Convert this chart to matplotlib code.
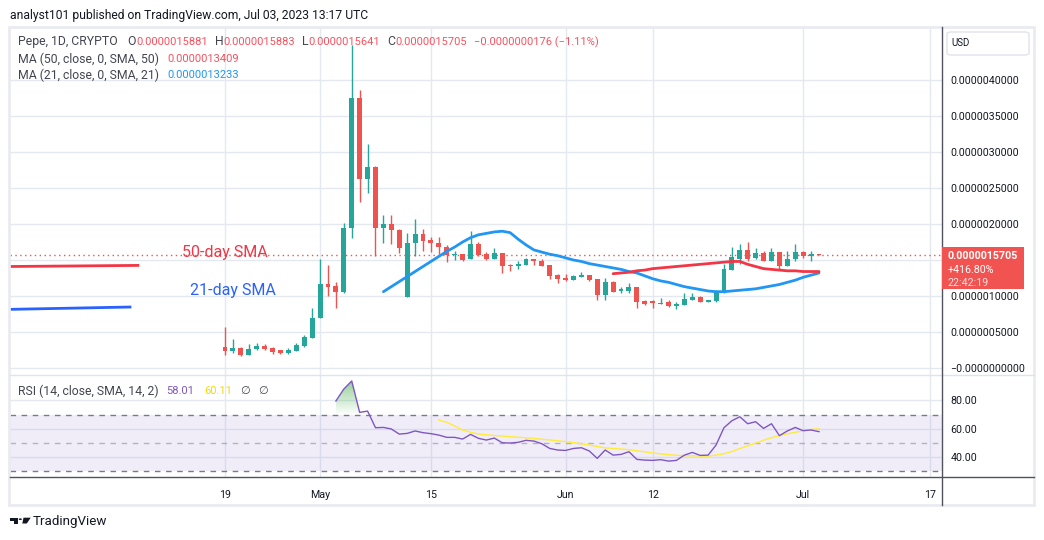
import matplotlib
matplotlib.use('Agg')
import matplotlib.pyplot as plt
import matplotlib.patches as mpatches
from matplotlib.lines import Line2D
from matplotlib.path import Path
import numpy as np
import pandas as pd

# Pepe / USD daily candles from Apr 19 2023 to Jul 3 2023 (prices in millionths of a USD)
start_date = pd.Timestamp('2023-04-19')
opens = [0.287, 0.240, 0.273, 0.180, 0.260, 0.305, 0.273, 0.250, 0.204, 0.240,
         0.305, 0.420, 0.700, 1.160, 1.140, 1.050, 1.950, 3.750, 2.620, 2.790,
         1.940, 2.000, 1.910, 0.980, 1.730, 1.860, 1.780, 1.740, 1.680, 1.570,
         1.580, 1.510, 1.720, 1.580, 1.520, 1.600, 1.430, 1.410, 1.435, 1.510,
         1.490, 1.430, 1.290, 1.250, 1.220, 1.270, 1.290, 1.240, 1.010, 1.200,
         1.065, 1.070, 1.120, 0.930, 0.930, 0.890, 0.910, 0.860, 0.880, 0.940,
         0.990, 0.920, 0.935, 1.050, 1.360, 1.520, 1.640, 1.530, 1.600, 1.490,
         1.610, 1.410, 1.510, 1.610, 1.550, 1.5881]
highs = [0.574, 0.400, 0.287, 0.330, 0.350, 0.340, 0.287, 0.250, 0.280, 0.350,
         0.460, 0.830, 1.520, 1.430, 1.200, 2.020, 4.490, 3.860, 3.110, 2.810,
         2.120, 2.120, 1.930, 1.870, 2.070, 1.930, 1.820, 1.820, 1.710, 1.620,
         1.590, 1.900, 1.750, 1.610, 1.660, 1.600, 1.450, 1.490, 1.530, 1.520,
         1.510, 1.430, 1.310, 1.310, 1.290, 1.330, 1.290, 1.240, 1.250, 1.210,
         1.120, 1.180, 1.120, 0.940, 0.950, 0.970, 0.940, 0.910, 1.040, 1.040,
         1.000, 0.940, 1.080, 1.440, 1.680, 1.720, 1.750, 1.670, 1.620, 1.660,
         1.610, 1.620, 1.720, 1.625, 1.620, 1.5883]
lows = [0.180, 0.204, 0.167, 0.180, 0.250, 0.250, 0.194, 0.200, 0.190, 0.240,
        0.296, 0.410, 0.690, 1.000, 0.840, 1.040, 1.810, 2.310, 2.430, 1.550,
        1.740, 1.720, 1.600, 0.980, 1.550, 1.620, 1.610, 1.590, 1.470, 1.500,
        1.480, 1.510, 1.550, 1.500, 1.510, 1.320, 1.350, 1.375, 1.430, 1.430,
        1.420, 1.240, 1.180, 1.210, 1.220, 1.260, 1.210, 0.940, 0.950, 1.050,
        1.040, 1.040, 0.830, 0.875, 0.840, 0.885, 0.850, 0.820, 0.870, 0.940,
        0.920, 0.910, 0.910, 1.040, 1.360, 1.450, 1.490, 1.510, 1.480, 1.490,
        1.360, 1.410, 1.480, 1.530, 1.490, 1.5641]
closes = [0.240, 0.273, 0.176, 0.260, 0.305, 0.268, 0.227, 0.204, 0.250, 0.320,
          0.430, 0.700, 1.160, 1.130, 1.050, 1.950, 3.750, 2.620, 2.790, 1.940,
          2.000, 1.910, 1.660, 1.730, 1.860, 1.760, 1.730, 1.680, 1.570, 1.590,
          1.500, 1.720, 1.570, 1.520, 1.600, 1.420, 1.410, 1.440, 1.510, 1.490,
          1.420, 1.280, 1.240, 1.220, 1.280, 1.290, 1.220, 1.010, 1.200, 1.060,
          1.100, 1.120, 0.920, 0.890, 0.900, 0.900, 0.860, 0.890, 0.960, 0.990,
          0.920, 0.940, 1.060, 1.370, 1.540, 1.640, 1.520, 1.600, 1.490, 1.610,
          1.410, 1.520, 1.610, 1.550, 1.590, 1.5705]

# moving average lines
sma21_first = 20
sma21 = [1.06, 1.13, 1.20, 1.27, 1.34, 1.41, 1.48, 1.55, 1.62, 1.68,
         1.75, 1.81, 1.85, 1.87, 1.89, 1.90, 1.88, 1.79, 1.71, 1.64,
         1.61, 1.58, 1.56, 1.53, 1.50, 1.48, 1.45, 1.43, 1.41, 1.39,
         1.37, 1.34, 1.32, 1.28, 1.24, 1.21, 1.19, 1.16, 1.13, 1.11,
         1.09, 1.07, 1.06, 1.06, 1.07, 1.08, 1.09, 1.10, 1.12, 1.14,
         1.16, 1.19, 1.22, 1.26, 1.29, 1.32]
sma50_first = 49
sma50 = [1.31, 1.32, 1.33, 1.35, 1.36, 1.38, 1.39, 1.40, 1.41, 1.42,
         1.43, 1.44, 1.45, 1.46, 1.47, 1.48, 1.48, 1.44, 1.41, 1.38,
         1.37, 1.36, 1.35, 1.35, 1.34, 1.34, 1.34]

# RSI (14) and its 14-day SMA
rsi_first = 14
rsi = [79.6, 88.0, 93.7, 71.6, 72.5, 60.8, 61.0, 59.9, 56.3, 56.8,
       58.5, 57.3, 56.6, 55.6, 54.0, 54.0, 52.8, 56.1, 53.3, 52.1,
       53.5, 50.2, 50.0, 50.5, 51.9, 51.4, 49.5, 46.2, 45.1, 44.8,
       46.2, 46.7, 44.4, 39.2, 45.1, 41.5, 42.0, 43.9, 38.5, 38.0,
       37.8, 38.3, 37.3, 37.8, 41.5, 43.4, 41.3, 41.5, 48.6, 60.8,
       65.7, 68.5, 63.6, 65.0, 60.3, 63.6, 55.2, 58.5, 61.0, 58.7,
       59.2, 58.01]
rsi_ma_first = 27
rsi_ma = [66.2, 64.6, 62.0, 59.2, 57.6, 56.4, 55.8, 55.3, 54.9, 54.5,
          54.1, 53.7, 53.2, 52.7, 52.2, 51.6, 51.0, 50.3, 49.5, 48.6,
          47.6, 46.6, 46.2, 45.8, 45.3, 44.6, 43.8, 43.0, 42.4, 41.8,
          41.4, 41.1, 41.0, 40.9, 40.8, 41.5, 42.5, 44.0, 46.2, 48.0,
          50.0, 52.0, 53.8, 55.2, 56.5, 57.6, 58.6, 59.5, 60.11]

# analyst's drawings: short lines and labels on the left
note_50_dates = ['2023-03-23', '2023-04-08']
note_50_vals = [1.41, 1.425]
note_21_dates = ['2023-03-23', '2023-04-07']
note_21_vals = [0.815, 0.847]
note_labels = ['50-day SMA', '21-day SMA']
note_label_dates = ['2023-04-19', '2023-04-20']
note_label_vals = [1.607, 1.083]

date_ticks = ['2023-04-19', '2023-05-01', '2023-05-15', '2023-06-01',
              '2023-06-12', '2023-07-01', '2023-07-17']
date_tick_labels = ['19', 'May', '15', 'Jun', '12', 'Jul', '17']
price_ticks = [0.0, 0.5, 1.0, 1.5, 2.0, 2.5, 3.0, 3.5, 4.0]
# the 1.5 label sits under the last-price box in the reference
price_tick_labels = ['\u22120.0000000000', '0.0000005000', '0.0000010000',
                     '', '0.0000020000', '0.0000025000',
                     '0.0000030000', '0.0000035000', '0.0000040000']
rsi_ticks = [40, 60, 80]
rsi_tick_labels = ['40.00', '60.00', '80.00']

GREEN = '#26A69A'
RED = '#EF5350'
BLUE = '#2196F3'
GRID = '#e4e9f0'
TXT = '#131722'
GRAY = '#434651'

plt.rcParams['font.family'] = ['Roboto', 'DejaVu Sans']

W, H = 1044, 540
fig = plt.figure(figsize=(W / 100, H / 100), dpi=100)


def fx(x):
    return x / W


def fy(y):
    return 1 - y / H


def day(s):
    return (pd.Timestamp(s) - start_date).days


ax = fig.add_axes([fx(10), fy(375), fx(932), 348 / H])
ax2 = fig.add_axes([fx(10), fy(477), fx(932), 102 / H])
xlim = (-27.15, 90.53)

# ---- price pane ----
o = np.array(opens)
c = np.array(closes)
d = np.arange(len(c))
cols = np.where(c >= o, GREEN, RED)
ax.vlines(d, lows, highs, colors=cols, lw=1, zorder=3)
ax.bar(d, np.maximum(np.abs(c - o), 0.012), bottom=np.minimum(o, c),
       width=0.62, color=cols, lw=0, zorder=3)

ax.plot(np.arange(sma21_first, sma21_first + len(sma21)), sma21,
        color=BLUE, lw=2, zorder=4, solid_capstyle='round')
ax.plot(np.arange(sma50_first, sma50_first + len(sma50)), sma50,
        color='#F23645', lw=2, zorder=4, solid_capstyle='round')

ax.axhline(closes[-1], color=RED, lw=1, ls=(0, (1, 2.5)), zorder=2)

ax.plot([day(s) for s in note_50_dates], note_50_vals, color='#F23645', lw=2)
ax.plot([day(s) for s in note_21_dates], note_21_vals, color='#2962FF', lw=2)
for lab, s, v, col in zip(note_labels, note_label_dates, note_label_vals,
                          ['#F23645', '#2962FF']):
    ax.text(day(s), v, lab, color=col, fontsize=11.5, ha='center', va='center')

ax.set_xlim(*xlim)
ax.set_ylim(-0.097, 4.736)
ax.set_yticks(price_ticks)
ax.set_yticklabels(price_tick_labels)
ax.yaxis.tick_right()
ax.set_xticks([day(s) for s in date_ticks])
ax.tick_params(axis='x', labelbottom=False, length=0)
ax.tick_params(axis='y', length=0, pad=6, labelsize=7.7, labelcolor=TXT)
ax.grid(True, color=GRID, lw=1)
ax.set_axisbelow(True)
for sp in ax.spines.values():
    sp.set_visible(False)

# ---- RSI pane ----
ax2.axhspan(30, 70, color='#7E57C2', alpha=0.1, lw=0)
ax2.axhline(70, color='#787B86', lw=1, ls=(0, (4, 4)))
ax2.axhline(30, color='#787B86', lw=1, ls=(0, (4, 4)))
ax2.axhline(50, color='#787B86', lw=1, ls=(0, (4, 4)), alpha=0.5)

rx = np.arange(rsi_first, rsi_first + len(rsi))
r = np.array(rsi)
fb = ax2.fill_between(rx, r, 70, where=r >= 70, interpolate=True,
                      facecolor='none', lw=0)
clip = Path.make_compound_path(*fb.get_paths())
grad = np.zeros((100, 1, 4))
grad[:, 0, 0] = 0.30
grad[:, 0, 1] = 0.69
grad[:, 0, 2] = 0.31
grad[:, 0, 3] = np.linspace(0.0, 0.75, 100)
im = ax2.imshow(grad, extent=[rx[0], rx[-1], 70, 100], origin='lower',
                aspect='auto', zorder=2, interpolation='bilinear')
im.set_clip_path(clip, transform=ax2.transData)

ax2.plot(rx, r, color='#7E57C2', lw=1, zorder=4)
ax2.plot(np.arange(rsi_ma_first, rsi_ma_first + len(rsi_ma)), rsi_ma,
         color='#FFEB3B', lw=1, zorder=3)

ax2.set_xlim(*xlim)
ax2.set_ylim(26.1, 97.9)
ax2.set_yticks(rsi_ticks)
ax2.set_yticklabels(rsi_tick_labels)
ax2.yaxis.tick_right()
ax2.set_xticks([day(s) for s in date_ticks])
ax2.set_xticklabels(date_tick_labels)
ax2.tick_params(axis='x', length=0, pad=9, labelsize=7.7, labelcolor=TXT)
ax2.tick_params(axis='y', length=0, pad=6, labelsize=7.7, labelcolor=TXT)
ax2.grid(True, color=GRID, lw=1)
ax2.set_axisbelow(True)
for sp in ax2.spines.values():
    sp.set_visible(False)

# ---- frame and separators ----
fig.add_artist(mpatches.Rectangle((fx(9), fy(505)), fx(1025), 478 / H,
                                  fill=False, ec='#e9ebf1', lw=2))
fig.add_artist(Line2D([fx(10), fx(1034)], [fy(375), fy(375)], color='#e0e3eb', lw=1))
fig.add_artist(Line2D([fx(10), fx(1034)], [fy(477), fy(477)], color='#50535e', lw=1))
fig.add_artist(Line2D([fx(942), fx(942)], [fy(27), fy(505)], color='#50535e', lw=1))

# USD box
fig.add_artist(mpatches.FancyBboxPatch((fx(947), fy(55)), fx(82), 23 / H,
                                       boxstyle='round,pad=0,rounding_size=0.004',
                                       fc='white', ec='#e0e3eb', lw=1))
fig.text(fx(951), fy(43), 'USD', fontsize=7, color=TXT, va='center')

# last price box
fig.add_artist(mpatches.Rectangle((fx(942), fy(289)), fx(82), 42 / H,
                                  fc='#F05350', ec='none', zorder=5))
fig.text(fx(948), fy(256), '0.0000015705', fontsize=7.7, color='white',
         va='center', weight='bold', zorder=6)
fig.text(fx(948), fy(270), '+416.80%', fontsize=7.7, color='white',
         va='center', zorder=6)
fig.text(fx(948), fy(283), '22:42:19', fontsize=7.7, color='#fde0e0',
         va='center', zorder=6)

# header and legend rows
fig.text(fx(10), fy(15), 'analyst101 published on TradingView.com, Jul 03, 2023 13:17 UTC',
         fontsize=8.7, color=TXT, va='center')

renderer = fig.canvas.get_renderer()


def text_row(x, y, parts):
    # parts: (text, colour, gap before in px, font size)
    for s, col, gap, size in parts:
        x += gap
        t = fig.text(fx(x), fy(y), s, fontsize=size, color=col, va='center')
        x += t.get_window_extent(renderer).width


LRED = '#F7525F'
LAB, VAL = 8.8, 8.0
text_row(18, 42, [('Pepe, 1D, CRYPTO', GRAY, 0, LAB), ('O', GRAY, 10, LAB),
                  ('0.0000015881', LRED, 0, VAL), ('H', GRAY, 7, LAB),
                  ('0.0000015883', LRED, 0, VAL), ('L', GRAY, 7, LAB),
                  ('0.0000015641', LRED, 0, VAL), ('C', GRAY, 7, LAB),
                  ('0.0000015705', LRED, 0, VAL),
                  ('\u22120.0000000176 (\u22121.11%)', LRED, 7, VAL)])
text_row(18, 59, [('MA (50, close, 0, SMA, 50)', GRAY, 0, LAB),
                  ('0.0000013409', LRED, 8, VAL)])
text_row(18, 75, [('MA (21, close, 0, SMA, 21)', GRAY, 0, LAB),
                  ('0.0000013233', BLUE, 8, VAL)])
text_row(18, 391, [('RSI (14, close, SMA, 14, 2)', GRAY, 0, LAB),
                   ('58.01', '#7E57C2', 8, VAL), ('60.11', '#F5D90A', 10, VAL),
                   ('\u2205', GRAY, 8, VAL), ('\u2205', GRAY, 8, VAL)])

# TradingView logo
fig.add_artist(mpatches.Polygon([(fx(10.3), fy(517.7)), (fx(18), fy(517.7)), (fx(18), fy(523.5)),
                                 (fx(14.3), fy(523.5)), (fx(14.3), fy(520.6)), (fx(10.3), fy(520.6))],
                                closed=True, fc=TXT, ec='none'))
fig.add_artist(mpatches.Circle((fx(20.3), fy(519.2)), 1.6 / W, fc=TXT, ec='none'))
fig.add_artist(mpatches.Polygon([(fx(23.5), fy(517.7)), (fx(30.7), fy(517.7)), (fx(26.8), fy(523.5)),
                                 (fx(22.3), fy(523.5))], closed=True, fc=TXT, ec='none'))
fig.text(fx(33), fy(521), 'TradingView', fontsize=9.6, color=TXT, va='center')

fig.savefig('out.png', dpi=100)
